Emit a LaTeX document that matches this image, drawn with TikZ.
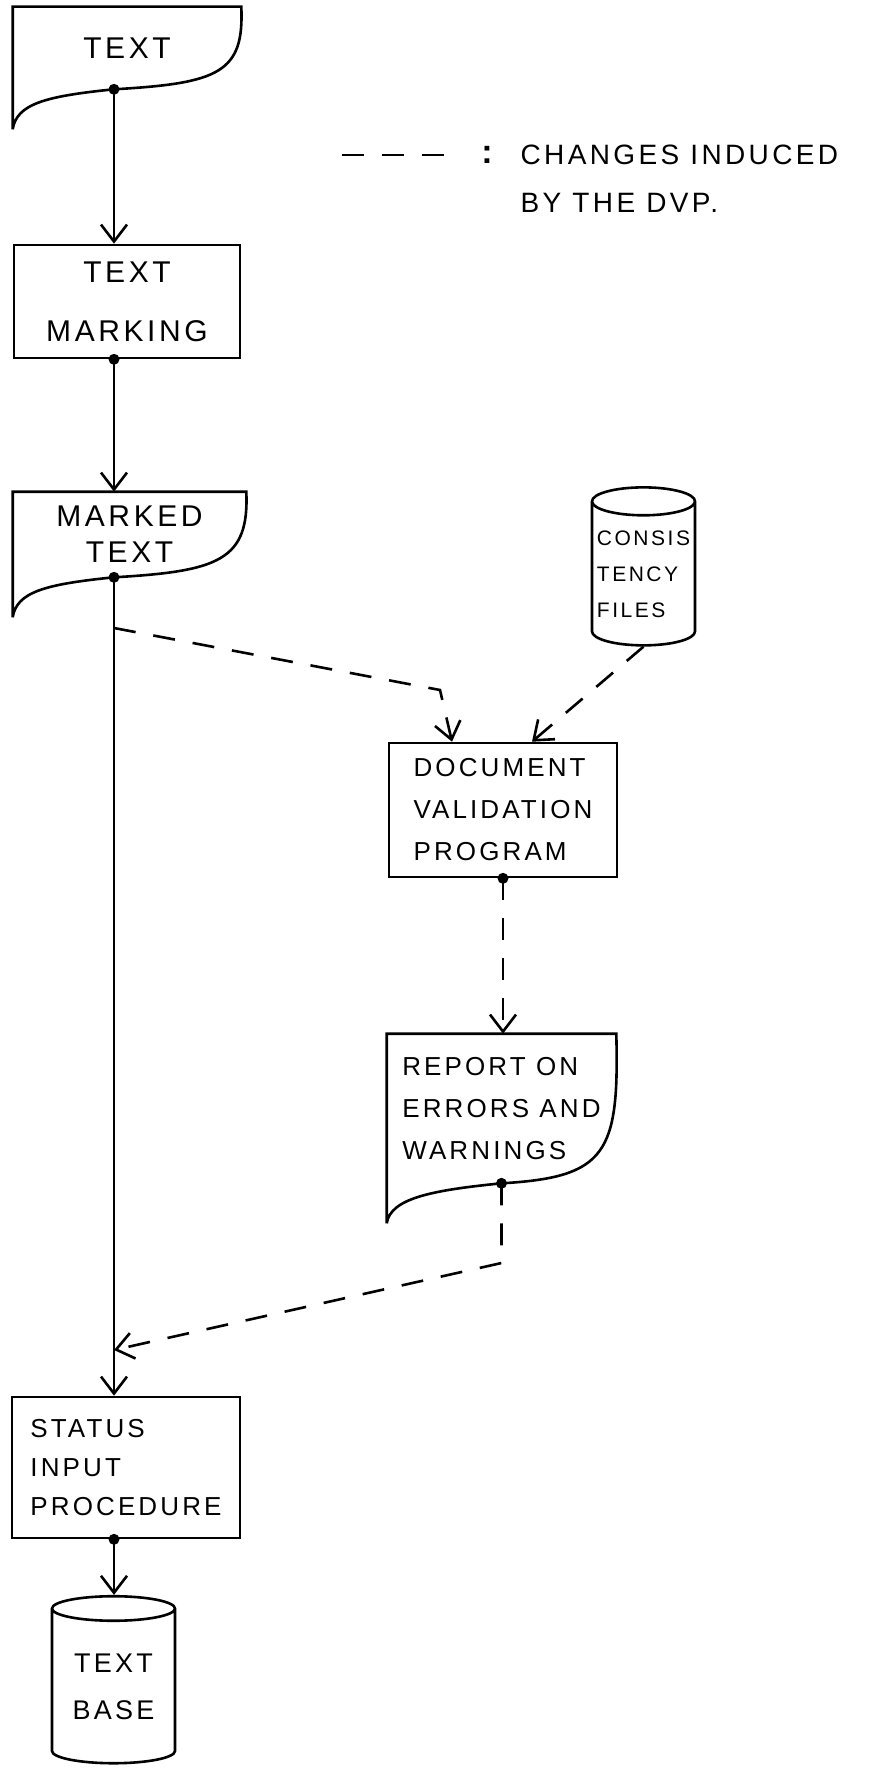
\documentclass[tikz,border=0pt]{standalone}
\usepackage{fontspec}
\newfontfamily\hand[LetterSpace=12]{Liberation Sans}
\usetikzlibrary{arrows.meta,calc,shapes.geometric}

\newcommand\docshape[2]{%
  \coordinate (#1-out) at ($(#1.south)+(#2,0)$);
  \coordinate (#1-tail) at ($(#1.south west)+(0,40)$);
  \draw (#1-tail) -- (#1.north west) -- (#1.north east)
    .. controls ($(#1.north east)!0.8!(#1.south east)+(3,0)$) and ($(#1-out)+(105,-6)$) .. (#1-out)
    .. controls ($(#1-out)+(-70,7)$) and ($(#1-tail)+(4,-25)$) .. (#1-tail);
}

\begin{document}
\begin{tikzpicture}[x=1pt,y=-1pt,line width=2.6pt,>={Straight Barb[length=17pt,width=26pt]}]
\tikzstyle{process}=[draw,rectangle,inner sep=0pt]
\tikzstyle{doc}=[rectangle,inner sep=0pt]
\tikzstyle{store}=[draw,cylinder,shape border rotate=90,aspect=0.3,inner sep=0pt]
\tikzstyle{bigtext}=[font=\hand\fontsize{30}{36}\selectfont,align=center]
\tikzstyle{smalltext}=[font=\hand\fontsize{26}{42}\selectfont,align=left]
\tikzstyle{change}=[dash pattern=on 22pt off 18pt]
\useasboundingbox (0,0) rectangle (873,1776);

\path (127,48) node[doc,bigtext,minimum width=226pt,minimum height=80pt](txt){TEXT};
\path (127,301.5) node[process,bigtext,minimum width=226pt,minimum height=113pt](mark){TEXT\\[23pt]MARKING};
\path (129.5,534.5) node[doc,bigtext,minimum width=231pt,minimum height=83pt](mkd){MARKED\\TEXT};
\path (643.5,574) node[store,font=\hand\fontsize{21}{36}\selectfont,align=left,minimum width=103pt,minimum height=158pt](cons){CONSIS\\TENCY\\FILES};
\path (503,810) node[process,smalltext,minimum width=228pt,minimum height=134pt](dvp){DOCUMENT\\VALIDATION\\PROGRAM};
\path (501.5,1108.5) node[doc,smalltext,minimum width=227pt,minimum height=147pt](rpt){REPORT ON\\ERRORS AND\\WARNINGS};
\path (126,1467.5) node[process,font=\hand\fontsize{26}{39}\selectfont,align=left,minimum width=228pt,minimum height=141pt](stat){STATUS\\INPUT\\PROCEDURE};
\path (113.5,1686.5) node[store,font=\hand\fontsize{27}{47}\selectfont,align=center,minimum width=123pt,minimum height=167pt](base){TEXT\\BASE};
\docshape{txt}{-13}
\docshape{mkd}{-15.5}
\docshape{rpt}{0}

\path (487,155) node[font=\hand\bfseries\fontsize{34}{48}\selectfont](colon){:};
\path (516,179) node[anchor=west,font=\hand\fontsize{28}{48}\selectfont,align=left](legend){CHANGES INDUCED\\BY THE DVP.};
\coordinate (key-a) at (342,155);
\coordinate (key-b) at (450,155);
\draw[change] (key-a) -- (key-b);

\coordinate (mark-out) at ($(mark.south)+(-13,0)$);
\coordinate (stat-out) at ($(stat.south)+(-12,0)$);
\coordinate (split) at (114,628);
\coordinate (bend) at (440,690);
\coordinate (corner) at (rpt-out |- 0,1263);
\coordinate (merge) at (114,1350);

\draw[->] (txt-out) -- (txt-out |- mark.north);
\draw[->] (mark-out) -- (mark-out |- mkd.north);
\draw[->] (mkd-out) -- (mkd-out |- stat.north);
\draw[->] (stat-out) -- (stat-out |- base.north);
\draw[change,->] (split) -- (bend) -- ($(dvp.north)+(-51,0)$);
\draw[change,->] (cons.south) -- ($(dvp.north)+(29,0)$);
\draw[change,->] (dvp.south) -- (dvp.south |- rpt.north);
\draw[change,->] (rpt-out) -- (corner) -- (merge);

\fill (txt-out) circle (5.5pt);
\fill (mark-out) circle (5.5pt);
\fill (mkd-out) circle (5.5pt);
\fill (dvp.south) circle (5.5pt);
\fill (rpt-out) circle (5.5pt);
\fill (stat-out) circle (5.5pt);
\end{tikzpicture}
\end{document}
